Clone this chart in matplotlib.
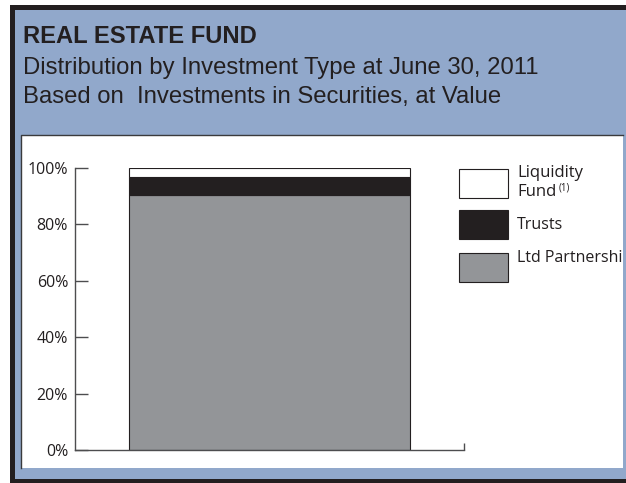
import numpy as np
import matplotlib.pyplot as plt
from matplotlib.patches import Rectangle

# distribution by investment type, % of investments in securities at value
categories = ["Ltd Partnerships", "Trusts", "Liquidity Fund"]
shares = [90.4, 6.3, 3.3]
colors = ["#939598", "#231F20", "#FFFFFF"]
legend_labels = ["Liquidity\nFund", "Trusts", "Ltd Partnershi"]
legend_colors = ["#FFFFFF", "#231F20", "#939598"]
y_ticks = [0, 20, 40, 60, 80, 100]
y_tick_labels = ["0%", "20%", "40%", "60%", "80%", "100%"]

title = "REAL ESTATE FUND"
subtitle = ["Distribution by Investment Type at June 30, 2011",
            "Based on  Investments in Securities, at Value"]

W, H = 626, 483
DARK = "#231F20"
BLUE = "#91A8CB"
HEAD_FONT = "Liberation Sans"
BODY_FONT = "Open Sans"


def px_axes(fig, x0, y0, x1, y1, **kw):
    """Axes placed by pixel box (top-left origin)."""
    return fig.add_axes([x0 / W, 1 - y1 / H, (x1 - x0) / W, (y1 - y0) / H], **kw)


fig = plt.figure(figsize=(W / 100, H / 100), dpi=100)
fig.patch.set_facecolor("white")

# background frame drawn in pixel coordinates
bg = px_axes(fig, 0, 0, W, H)
bg.set_xlim(0, W)
bg.set_ylim(H, 0)
bg.axis("off")
bg.add_patch(Rectangle((10, 5), W, H, facecolor=DARK, edgecolor="none"))
bg.add_patch(Rectangle((15, 10), W, 469, facecolor=BLUE, edgecolor="none"))
bg.add_patch(Rectangle((21, 135), 602, 333, facecolor="white", edgecolor="none"))
# thin shadow line on the panel's top and left edges
bg.plot([21, 21, 623], [468, 135, 135], color="#3a3a3c", linewidth=1)

bg.text(23, 43, title, fontsize=17.1, fontweight="bold", family=HEAD_FONT,
        color=DARK, va="baseline")
for i, line in enumerate(subtitle):
    bg.text(23, 74 + 29 * i, line, fontsize=17.2, family=HEAD_FONT,
            color=DARK, va="baseline")

# legend swatches and labels
sw_x, sw_w, sw_h = 459, 49, 29
sw_tops = [169, 210, 253]
for top, c in zip(sw_tops, legend_colors):
    bg.add_patch(Rectangle((sw_x, top), sw_w, sw_h, facecolor=c,
                           edgecolor=DARK, linewidth=0.8))
liq, fund = legend_labels[0].split("\n")
bg.text(517, 177, liq, fontsize=12, family=BODY_FONT, color=DARK, va="baseline")
bg.text(517, 196, fund, fontsize=12, family=BODY_FONT, color=DARK, va="baseline")
bg.text(559, 191, "(1)", fontsize=7, family=BODY_FONT, color=DARK, va="baseline")
bg.text(517, 229, legend_labels[1], fontsize=11.5, family=BODY_FONT, color=DARK, va="baseline")
bg.text(517, 262, legend_labels[2], fontsize=11.5, family=BODY_FONT, color=DARK, va="baseline")

# stacked bar chart
ax = px_axes(fig, 75, 168, 464, 450)
ax.set_facecolor("none")
bottom = 0
for val, c in zip(shares, colors):
    ax.bar(0, val, width=0.72, bottom=bottom, color=c, edgecolor=DARK, linewidth=0.8)
    bottom += val
ax.set_xlim(-0.5, 0.5)
ax.set_ylim(0, 100)
ax.set_yticks(y_ticks)
ax.set_yticklabels(y_tick_labels, fontsize=11.5, family=BODY_FONT, color=DARK)
ax.tick_params(axis="y", direction="in", length=9, width=1, color="#4d4d4f", pad=5)
ax.set_xticks([0.5])
ax.set_xticklabels([""])
ax.tick_params(axis="x", direction="in", length=5, width=1, color="#4d4d4f")
for s in ["top", "right"]:
    ax.spines[s].set_visible(False)
for s in ["left", "bottom"]:
    ax.spines[s].set_color("#4d4d4f")
    ax.spines[s].set_linewidth(1)

plt.savefig("out.png", dpi=100)
